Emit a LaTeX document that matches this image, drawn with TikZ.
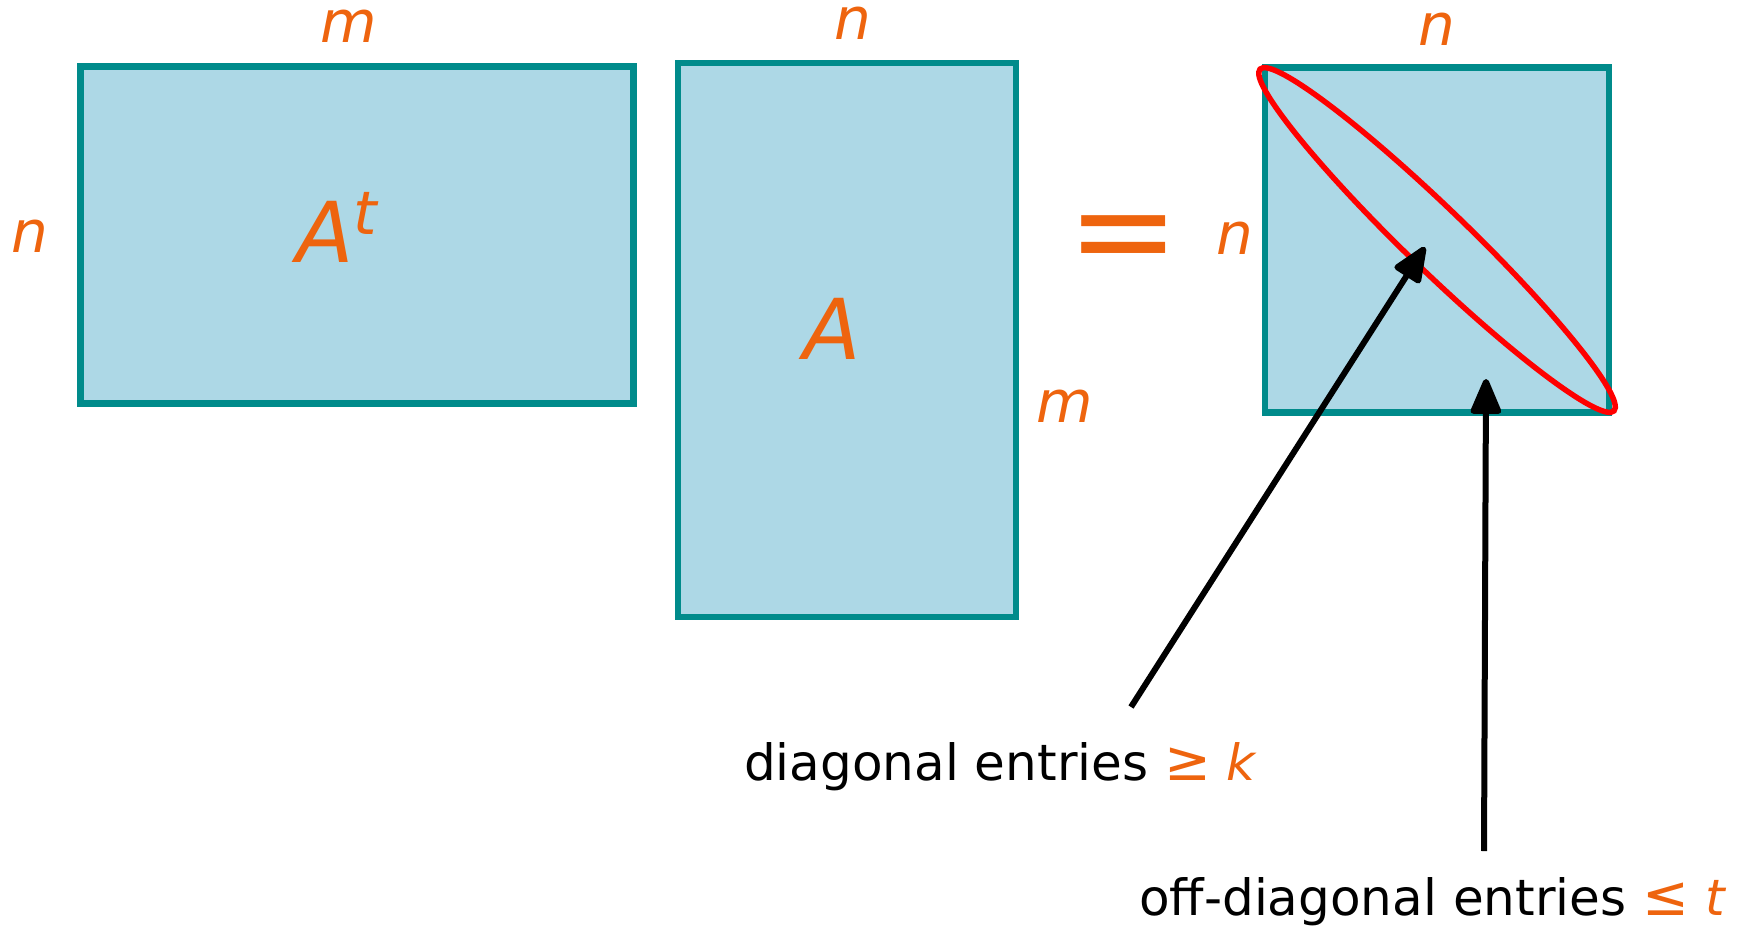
\documentclass[tikz,border=0pt]{standalone}
\usepackage{fontspec}
\setmainfont{DejaVu Sans}
\usetikzlibrary{arrows.meta,positioning}
\definecolor{matedge}{RGB}{0,139,139}
\definecolor{matfill}{RGB}{173,216,230}
\definecolor{dimorange}{RGB}{238,100,14}
\newcommand{\relsign}[1]{{\fontsize{56}{60}\selectfont #1}}

\begin{document}
\begin{tikzpicture}[x=1pt, y=-1pt, >=Stealth,
    mat/.style={rectangle, draw=matedge, fill=matfill, line width=6.3pt, inner sep=0pt},
    dim/.style={text=dimorange, font=\fontsize{58}{60}\selectfont\itshape, inner sep=0pt},
    matname/.style={text=dimorange, font=\fontsize{84}{90}\selectfont\itshape, inner sep=0pt},
    note/.style={font=\fontsize{50}{60}\selectfont, inner sep=0pt},
    line/.style={draw=black, line width=6pt, -{Triangle[length=40pt, width=32pt, round]}}]

    \useasboundingbox (0,0) rectangle (1744,928);

    % the three matrices
    \node [mat, minimum width=553pt, minimum height=337pt] (At) at (357,235) {};
    \node [mat, minimum width=338pt, minimum height=554pt] (A) at (847,340) {};
    \node [mat, minimum width=344pt, minimum height=345pt] (AtA) at (1437,240) {};
    \draw [red, line width=5.5pt, rotate around={-44:(AtA.center)}] (AtA.center) ellipse (246pt and 31pt);

    % names and sizes
    \node [matname, anchor=base west] (AtName) at (296,262) {A\raisebox{0pt}[0pt][0pt]{\fontsize{60}{60}\selectfont\raisebox{28pt}{t}}};
    \node [matname, anchor=base west] (AName) at (803,359) {A};
    \node [dim, anchor=base] (mtop) at (349,43) {m};
    \node [dim, anchor=base] (nleft) at (30,252) {n};
    \node [dim, anchor=base] (ntop) at (853,40) {n};
    \node [dim, anchor=base west] (mright) at (1036,422) {m};
    \node [dim, anchor=base west] (nmid) at (1216,254) {n};
    \node [dim, anchor=base] (ntopr) at (1437,46) {n};
    \node [text=dimorange, font=\fontsize{134}{134}\selectfont, inner sep=0pt] (eq) at (1124,246) {=};

    % notes
    \node [note, anchor=base west] (diag) at (744,780) {diagonal entries {\color{dimorange}\relsign{≥} \textit{k}}};
    \node [note, anchor=base west] (offdiag) at (1139,915) {off-diagonal entries {\color{dimorange}\relsign{≤} \textit{t}}};

    \coordinate (diagtail) at (1131,707);
    \coordinate (diagtip) at (1425,247);
    \coordinate (offtail) at (1484,851);
    \coordinate (offtip) at (1486,379);
    \path [line] (diagtail) -- (diagtip);
    \path [line] (offtail) -- (offtip);
  \end{tikzpicture}
\end{document}
